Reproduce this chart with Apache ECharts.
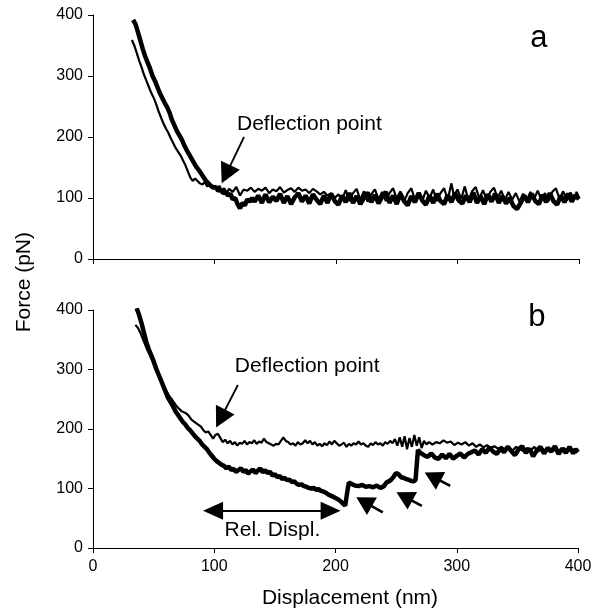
<!DOCTYPE html>
<html>
<head>
<meta charset="utf-8">
<script src="https://cdn.jsdelivr.net/npm/echarts@6/dist/echarts.min.js"></script>
<style>
  html, body { margin: 0; padding: 0; background: #fff; }
  #chart { width: 602px; height: 610px; }
</style>
</head>
<body>
<div id="chart"></div>
<script>
// panel a, thick trace (approach, heavy line)
const aThick = [
  [33,392],[35,385],[37,372],[39,358],[41,344],[43,332],[45,322],[47,312],[49,300],[51,292],
  [53,282],[55,272],[57,264],[59,256],[61,249],[63,240],[65,228],[67,219],[69,210],[71,203],
  [73,196],[75,187],[77,179],[79,172],[81,165],[83,158],[85,151],[87,146],[89,140],[91,134],
  [93,128],[95,124],[97,120],[99,117],[101,118],[103,112],[105,114],[107,108],[109,110],[111,104],
  [113,107],[115,98],[117,100],[119,90],[121,83],[123,92],[125,88],[127,98],[129,94],[131,100],
  [133,94],[136,104],[139,92],[142,106],[145,93],[148,102],[151,95],[154,107],[157,92],[160,103],
  [163,90],[166,101],[169,108],[172,94],[175,104],[178,91],[181,106],[184,97],[187,90],[190,104],
  [193,92],[196,107],[199,95],[202,89],[205,104],[208,93],[211,108],[214,92],[217,103],[220,90],
  [223,100],[226,109],[229,93],[232,105],[235,91],[238,102],[241,110],[244,92],[247,104],[250,90],
  [253,107],[256,95],[259,88],[262,103],[265,93],[268,108],[271,96],[274,89],[277,104],[280,92],
  [283,107],[286,95],[289,90],[292,105],[295,93],[298,108],[301,96],[304,91],[307,104],[310,93],
  [313,109],[316,92],[319,103],[322,90],[325,106],[328,94],[331,107],[334,92],[337,103],[340,91],
  [343,100],[346,87],[349,82],[352,92],[355,104],[358,93],[361,107],[364,95],[367,90],[370,105],
  [373,93],[376,108],[379,95],[382,89],[385,104],[388,93],[391,107],[394,94],[397,105],[400,98]
];
// panel a, thin trace
const aThin = [
  [32,359],[34,350],[36,338],[38,325],[40,314],[42,302],[44,292],[46,282],[48,272],[50,264],
  [52,254],[54,242],[56,232],[58,222],[60,214],[62,207],[64,198],[66,190],[68,182],[70,176],
  [72,170],[74,162],[76,154],[78,144],[80,134],[82,128],[84,132],[86,128],[88,124],[90,122],
  [92,126],[94,119],[96,122],[98,116],[100,118],[102,113],[104,120],[106,112],[108,116],[110,108],
  [112,115],[115,110],[118,118],[121,104],[124,114],[127,112],[130,117],[133,110],[136,115],[139,112],
  [142,117],[145,108],[148,114],[151,111],[154,118],[157,109],[160,113],[163,116],[166,110],[169,117],
  [172,112],[175,114],[178,108],[181,115],[184,111],[187,106],[190,110],[193,104],[196,108],[199,100],
  [202,106],[205,97],[208,113],[211,95],[214,108],[217,115],[220,97],[223,111],[226,94],[229,106],
  [232,114],[235,98],[238,110],[241,95],[244,108],[247,116],[250,99],[253,111],[256,94],[259,108],
  [262,116],[265,97],[268,109],[271,95],[274,112],[277,100],[280,114],[283,95],[286,108],[289,116],
  [292,97],[295,124],[297,104],[300,114],[303,98],[306,119],[309,96],[312,111],[315,118],[318,99],
  [321,113],[324,97],[327,110],[330,117],[333,100],[336,112],[339,96],[342,110],[345,97],[348,108],
  [351,94],[354,107],[357,96],[360,110],[363,98],[366,112],[369,97],[372,108],[375,95],[378,110],
  [381,116],[384,98],[387,111],[390,96],[393,109],[396,97],[398,110],[400,100]
];
// panel b, thick trace (with rupture steps)
const bThick = [
  [36,403],[38,392],[40,378],[42,362],[44,346],[46,334],[48,324],[50,314],[52,302],[54,292],
  [56,282],[58,272],[60,262],[62,252],[64,245],[66,238],[68,230],[70,224],[72,218],[74,212],
  [76,208],[78,202],[80,198],[82,193],[84,188],[86,184],[88,180],[90,174],[92,170],[94,166],
  [96,160],[98,155],[100,150],[102,146],[104,143],[106,140],[108,138],[110,134],[112,137],[114,131],
  [116,133],[118,128],[120,131],[122,134],[124,128],[126,131],[128,125],[130,129],[132,132],[134,126],
  [136,130],[138,134],[140,127],[142,131],[144,126],[146,128],[148,122],[150,124],[152,119],[154,121],
  [156,116],[158,118],[160,114],[162,115],[164,111],[166,112],[168,108],[170,106],[172,107],[174,104],
  [176,103],[178,101],[180,100],[182,101],[184,98],[186,99],[188,96],[190,95],[192,93],[194,90],
  [196,88],[198,86],[200,84],[202,82],[204,79],[206,75],[208,71],[209,72],[210,98],[211,110],
  [213,108],[216,105],[219,104],[222,106],[225,103],[228,104],[231,102],[234,105],[237,101],[240,104],
  [242,110],[244,112],[246,115],[248,120],[250,126],[252,124],[254,119],[256,118],[258,116],[260,115],
  [262,113],[264,112],[266,114],[267,140],[268,165],[270,160],[273,156],[276,153],[279,159],[282,152],
  [285,150],[288,157],[291,151],[294,158],[297,150],[300,155],[303,159],[306,152],[309,158],[312,161],
  [315,164],[318,157],[321,166],[324,160],[327,169],[330,162],[333,158],[336,167],[339,161],[342,170],
  [345,163],[348,156],[351,166],[354,171],[357,160],[360,167],[363,154],[366,164],[369,170],[372,159],
  [375,168],[378,162],[381,171],[384,158],[387,167],[390,160],[393,170],[396,159],[398,166],[400,161]
];
// panel b, thin trace
const bThin = [
  [35,375],[37,370],[39,362],[41,352],[43,342],[45,332],[47,324],[49,314],[51,305],[53,296],
  [55,287],[57,278],[59,270],[61,262],[63,255],[65,250],[67,244],[69,238],[71,234],[73,230],
  [75,228],[77,226],[79,222],[81,216],[83,213],[85,210],[87,207],[89,204],[91,198],[93,194],
  [95,196],[97,190],[99,184],[101,190],[103,192],[105,185],[107,178],[109,182],[111,176],[113,180],
  [115,174],[117,178],[119,172],[121,177],[123,175],[125,180],[127,174],[129,178],[131,176],[133,181],
  [135,175],[137,179],[139,177],[141,184],[143,178],[145,176],[147,174],[149,172],[151,175],[153,174],
  [155,180],[157,186],[159,180],[161,178],[163,174],[165,176],[167,172],[169,178],[171,174],[173,176],
  [175,181],[177,176],[179,180],[181,174],[183,178],[185,172],[187,175],[189,171],[191,176],[193,173],
  [195,179],[197,174],[199,180],[201,176],[203,172],[205,174],[207,177],[209,170],[211,175],[213,172],
  [215,176],[217,174],[219,179],[221,174],[223,176],[225,172],[227,170],[229,176],[231,173],[233,178],
  [235,174],[237,176],[239,172],[241,178],[243,175],[245,180],[247,176],[249,183],[251,172],[253,186],
  [255,170],[257,188],[259,166],[261,185],[263,170],[265,190],[267,172],[269,186],[271,168],[273,180],
  [275,174],[277,178],[280,174],[283,178],[286,176],[289,181],[292,177],[295,179],[298,173],[301,177],
  [304,174],[307,178],[310,172],[313,176],[316,170],[319,174],[322,169],[325,173],[328,168],[331,171],
  [334,167],[337,170],[340,165],[343,168],[346,164],[349,170],[352,166],[355,163],[358,168],[361,164],
  [364,170],[367,162],[370,167],[373,164],[376,169],[379,163],[382,166],[385,162],[388,168],[391,164],
  [394,167],[397,163],[400,165]
];

const xTicks = [0, 100, 200, 300, 400];
const yTicks = [0, 100, 200, 300, 400];

// annotation arrows: [line start, arrow head centre] in data units
const aDeflArrow = [[124.3, 200], [109.5, 138.9]];
const bDeflArrow = [[119.5, 274], [105.3, 217.6]];
const bRelDispl = [[99, 62.4], [196, 62.4]];
const bRuptureArrows = [
  [[239, 59.7], [223.6, 77.7]],
  [[271.2, 70.8], [256.8, 86.5]],
  [[294.6, 104.3], [280.1, 120]]
];
// text anchors
const aDeflText = [118.5, 221];
const bDeflText = [117, 306];
const bRelText = [148, 30];
const aPanel = [367, 362];
const bPanel = [366, 387];

const FONT = '"Liberation Sans", Arial, Helvetica, sans-serif';
const chart = echarts.init(document.getElementById('chart'), null, { renderer: 'canvas' });

function xAxisOf(gridIndex, showLabels) {
  return {
    type: 'value', gridIndex, min: xTicks[0], max: xTicks[xTicks.length - 1], interval: 100,
    axisLine: { show: true, lineStyle: { color: '#000', width: 1 } },
    axisTick: { show: true, length: 5, lineStyle: { color: '#000' } },
    axisLabel: { show: showLabels, color: '#000', fontSize: 16, fontFamily: FONT, margin: 11 },
    splitLine: { show: false },
    name: showLabels ? 'Displacement (nm)' : '',
    nameLocation: 'middle', nameGap: 40,
    nameTextStyle: { color: '#000', fontSize: 21, fontFamily: FONT, padding: [0, 0, 0, 29] }
  };
}
function yAxisOf(gridIndex) {
  return {
    type: 'value', gridIndex, min: yTicks[0], max: yTicks[yTicks.length - 1], interval: 100,
    axisLine: { show: true, lineStyle: { color: '#000', width: 1 } },
    axisTick: { show: true, length: 5, lineStyle: { color: '#000' } },
    axisLabel: { color: '#000', fontSize: 16, fontFamily: FONT, margin: 10 },
    splitLine: { show: false }
  };
}
function arrowLine(pair, heads, size, width) {
  return [
    { coord: pair[0], symbol: heads[0], symbolSize: size },
    { coord: pair[1], symbol: heads[1], symbolSize: size, lineStyle: { width } }
  ];
}
function textPoint(coord, text, size) {
  return {
    coord, symbolSize: 0,
    label: { show: true, formatter: text, position: 'right', distance: 0, color: '#000', fontSize: size, fontFamily: FONT }
  };
}
function centerText(coord, text, size) {
  return {
    coord, symbolSize: 0,
    label: { show: true, formatter: text, position: 'inside', color: '#000', fontSize: size, fontFamily: FONT }
  };
}
const mlBase = { silent: true, animation: false, label: { show: false }, lineStyle: { color: '#000', type: 'solid', width: 1.5 } };

chart.setOption({
  animation: false,
  backgroundColor: '#fff',
  grid: [
    { left: 93, top: 15, width: 486, height: 244 },
    { left: 93, top: 310, width: 485, height: 239 }
  ],
  xAxis: [xAxisOf(0, false), xAxisOf(1, true)],
  yAxis: [yAxisOf(0), yAxisOf(1)],
  graphic: [{
    type: 'text', left: 14, top: 232, rotation: Math.PI / 2,
    style: { text: 'Force (pN)', fill: '#000', font: '21px ' + FONT }
  }],
  series: [
    { type: 'line', xAxisIndex: 0, yAxisIndex: 0, data: aThick, showSymbol: false,
      lineStyle: { color: '#000', width: 4.5 } },
    { type: 'line', xAxisIndex: 0, yAxisIndex: 0, data: aThin, showSymbol: false,
      lineStyle: { color: '#000', width: 2.2 },
      markLine: Object.assign({}, mlBase, {
        data: [arrowLine(aDeflArrow, ['none', 'triangle'], [21, 20], 1.8)]
      }),
      markPoint: { silent: true, animation: false, symbol: 'circle', data: [
        textPoint(aDeflText, 'Deflection point', 21),
        centerText(aPanel, 'a', 31)
      ] } },
    { type: 'line', xAxisIndex: 1, yAxisIndex: 1, data: bThick, showSymbol: false,
      lineStyle: { color: '#000', width: 4.5 } },
    { type: 'line', xAxisIndex: 1, yAxisIndex: 1, data: bThin, showSymbol: false,
      lineStyle: { color: '#000', width: 2.2 },
      markLine: Object.assign({}, mlBase, {
        data: [
          arrowLine(bDeflArrow, ['none', 'triangle'], [21, 20], 1.8),
          arrowLine(bRelDispl, ['triangle', 'triangle'], [18, 20], 1.8)
        ].concat(bRuptureArrows.map(p => arrowLine(p, ['none', 'triangle'], [20, 18], 2.6)))
      }),
      markPoint: { silent: true, animation: false, symbol: 'circle', data: [
        textPoint(bDeflText, 'Deflection point', 21),
        centerText(bRelText, 'Rel. Displ.', 21),
        centerText(bPanel, 'b', 31)
      ] } }
  ]
});
</script>
</body>
</html>
